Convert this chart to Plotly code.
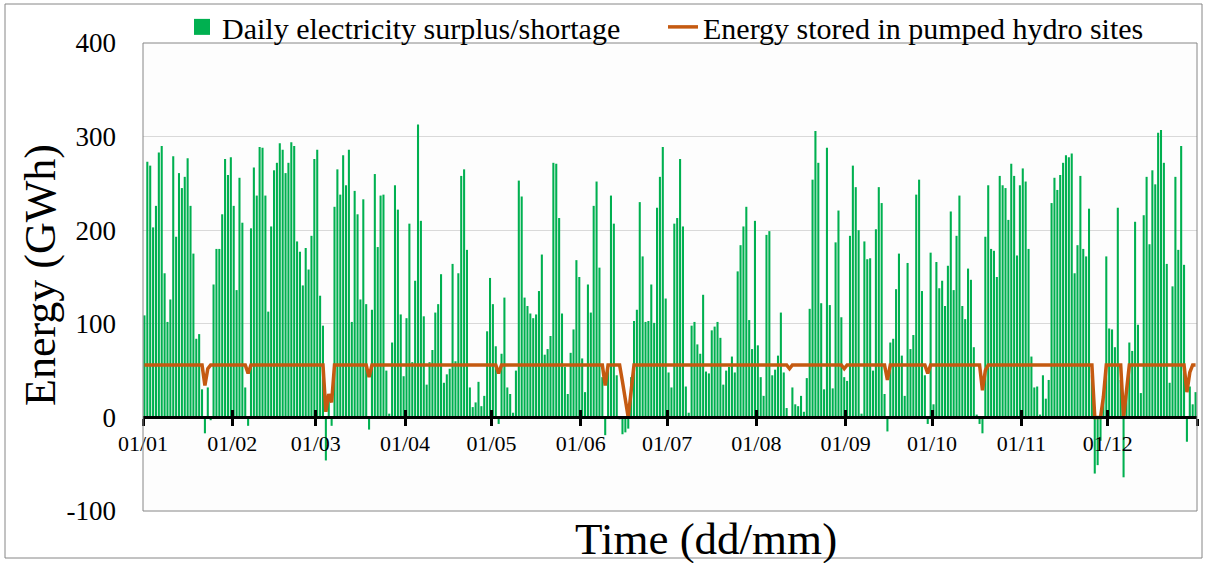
import plotly.graph_objects as go

# Daily electricity surplus/shortage (GWh), one value per day (leap year, 366 days)
surplus = [
    109, 273, 269, 203, 226, 283, 290, 154, 102, 126, 279, 193, 261, 245, 257, 277, 226, 175, 84, 89,
    30, -17, 32, -3, 142, 180, 180, 217, 276, 259, 278, 226, 136, 256, 208, 32, -9, 202, 267, 237,
    289, 288, 237, 113, 204, 264, 272, 293, 286, 261, 272, 294, 290, 188, 177, 141, 181, 158, 194, 276,
    286, 130, 98, -46, 18, -9, 225, 265, 238, 280, 248, 286, 102, 242, 217, 126, 233, 121, -13, 115,
    260, 182, 237, 238, 50, 4, 80, 248, 222, 110, 44, 106, 207, 59, 146, 313, 210, 108, 35, 59,
    72, 112, 121, 153, 37, 46, 52, 164, 60, 154, 258, 265, 179, 32, 11, 16, 38, 12, 23, 92,
    149, 121, 76, -7, 68, 128, 32, 25, 5, 50, 253, 236, 128, 119, 111, 106, 110, 135, 174, 67,
    73, 87, 272, 271, 213, 111, 54, 25, 69, 94, 168, 150, 63, 27, 142, 112, 226, 252, 160, 43,
    -19, 50, 237, 207, 45, -2, -18, -16, -12, 43, 103, 115, 230, 172, 102, 103, 142, 101, 224, 257,
    289, 127, 48, 32, 207, 213, 276, 204, 33, 5, 98, 102, 78, 68, 131, 49, 47, 93, 97, 102,
    85, 35, 50, 54, 65, 48, 156, 184, 204, 225, 104, 73, 210, 77, 43, 23, 195, 199, 45, 51,
    66, 112, 48, 10, -1, 32, 14, 12, 23, 6, 42, 116, 254, 306, 272, 122, 30, 288, 120, 31,
    187, 221, 107, 43, 39, 194, 269, 246, 200, 4, 188, 169, 170, 50, 201, 246, 229, 25, -15, 80,
    84, 137, 175, 66, 23, 165, 73, 88, 238, 254, 135, 45, -7, 176, 14, 166, 138, 146, 119, 162,
    220, 136, 194, 237, 119, 105, 159, 147, 75, 3, -7, -17, 193, 248, 180, 178, 150, 258, 248, 245,
    211, 271, 258, 173, 248, 266, 252, 180, 65, 32, 33, 3, 45, 20, 40, 229, 256, 243, 259, 272,
    280, 278, 282, 154, 184, 258, 180, 172, 223, 45, -60, -51, -25, 20, 172, 95, 94, 75, 224, 40,
    -64, 30, 80, 71, 209, 99, 26, 216, 257, 185, 264, 249, 304, 307, 272, 164, 37, 140, 257, 179,
    290, 163, -26, 33, 14, 27,
]

# Energy stored in pumped hydro sites (GWh): full level and the days where it dips
storage_full = 56
storage_dips = {
    21: 34, 22: 52, 36: 47, 63: 6, 64: 25, 65: 16, 78: 43, 123: 47, 160: 34,
    166: 38, 167: 19, 168: 0, 169: 28, 224: 52, 243: 52, 258: 40, 272: 47,
    291: 29, 292: 50, 330: 0, 331: 0, 332: 0, 333: 22, 340: 0, 341: 28,
    362: 27, 363: 48,
}
storage = [storage_dips.get(i, storage_full) for i in range(len(surplus))]

days = [i + 0.5 for i in range(len(surplus))]

month_starts = [0, 31, 60, 91, 121, 152, 182, 213, 244, 274, 305, 335, 366]
month_labels = ["01/01", "01/02", "01/03", "01/04", "01/05", "01/06",
                "01/07", "01/08", "01/09", "01/10", "01/11", "01/12", ""]

y_ticks = [-100, 0, 100, 200, 300, 400]
y_labels = ["-100", "0", "100", "200", "300", "400"]

SERIF = "Liberation Serif, Times New Roman, serif"
GREEN = "#00B050"
ORANGE = "#C55A11"

fig = go.Figure()

fig.add_trace(go.Bar(
    x=days, y=surplus, marker=dict(color=GREEN, line=dict(width=0)),
    showlegend=False, name="Daily electricity surplus/shortage",
))
# legend proxy for the bars
fig.add_trace(go.Scatter(
    x=[None], y=[None], mode="markers",
    marker=dict(symbol="square", size=18, color=GREEN),
    name="Daily electricity surplus/shortage",
))
fig.add_trace(go.Scatter(
    x=days, y=storage, mode="lines", xaxis="x2",
    line=dict(color=ORANGE, width=3.5),
    name="Energy stored in pumped hydro sites",
))

fig.update_layout(
    width=1207, height=563,
    margin=dict(l=143, r=10, t=43, b=52, autoexpand=False),
    paper_bgcolor="white", plot_bgcolor="#FDFDFD",
    bargap=0.28,
    font=dict(family=SERIF, color="black"),
    xaxis=dict(
        range=[0, 366], anchor="free", position=0.2,
        tickmode="array", tickvals=month_starts, ticktext=month_labels,
        ticks="outside", ticklen=7, tickwidth=3, tickcolor="black",
        showline=True, linecolor="black", linewidth=3,
        showgrid=False, zeroline=False, automargin=False,
        ticklabelstandoff=-2,
        tickfont=dict(family=SERIF, size=22, color="black"),
    ),
    xaxis2=dict(
        range=[0, 366], anchor="free", position=0.2, overlaying="x",
        tickmode="array", tickvals=month_starts,
        ticks="inside", ticklen=7, tickwidth=3, tickcolor="black",
        showticklabels=False, showline=False, showgrid=False, zeroline=False,
    ),
    yaxis=dict(
        range=[-100, 400], tickmode="array", tickvals=y_ticks, ticktext=y_labels,
        showgrid=True, gridcolor="#D9D9D9", gridwidth=1,
        zeroline=False, showline=False, ticks="", automargin=False,
        ticklabelstandoff=26,
        tickfont=dict(family=SERIF, size=27, color="black"),
    ),
    legend=dict(
        orientation="h", x=(182 - 143) / 1054, y=1.09, xanchor="left", yanchor="top",
        font=dict(family=SERIF, size=30, color="black"),
        bgcolor="rgba(0,0,0,0)", entrywidth=436, entrywidthmode="pixels",
    ),
    shapes=[
        dict(type="rect", xref="paper", yref="paper", x0=0, x1=1, y0=0, y1=1,
             line=dict(color="#868686", width=1), layer="above"),
        dict(type="rect", xref="paper", yref="paper",
             x0=(5 - 143) / 1054, x1=(1202 - 143) / 1054,
             y0=(511 - 558) / 468, y1=(511 - 4) / 468,
             line=dict(color="#868686", width=1), layer="above"),
    ],
    annotations=[
        dict(text="Energy (GWh)", xref="paper", yref="paper",
             x=(40 - 143) / 1054, y=(511 - 275) / 468, textangle=-90,
             showarrow=False, xanchor="center", yanchor="middle",
             font=dict(family=SERIF, size=44, color="black")),
        dict(text="Time (dd/mm)", xref="paper", yref="paper",
             x=(706 - 143) / 1054, y=(511 - 539) / 468,
             showarrow=False, xanchor="center", yanchor="middle",
             font=dict(family=SERIF, size=45, color="black")),
    ],
)

fig.write_html(
    "out.html",
    config={"displayModeBar": False},
    post_script="document.body.style.margin='0';document.body.style.overflow='hidden';",
)
